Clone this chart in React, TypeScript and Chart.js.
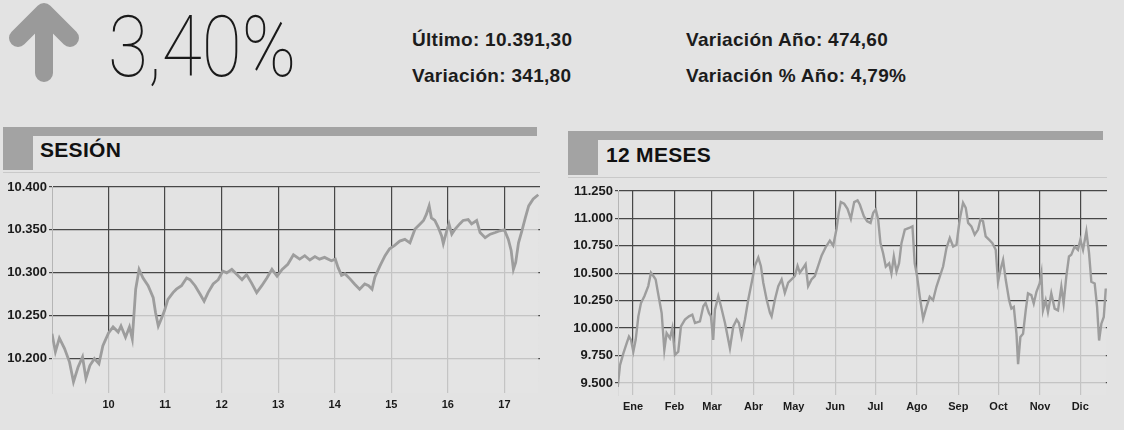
import React, { useEffect, useRef } from "react";
import { Chart, registerables } from "chart.js";
Chart.register(...registerables);

// ---- SESIÓN (intraday) ----
const sessionHours = [
  9.0, 9.06, 9.13, 9.22, 9.31, 9.38, 9.46, 9.54, 9.6, 9.67, 9.75, 9.83, 9.9, 10.0,
  10.08, 10.17, 10.22, 10.3, 10.37, 10.42, 10.48, 10.54, 10.61, 10.7, 10.79, 10.83,
  10.88, 10.93, 10.99, 11.05, 11.14, 11.2, 11.29, 11.38, 11.44, 11.53, 11.62, 11.69,
  11.76, 11.85, 11.94, 12.02, 12.09, 12.18, 12.27, 12.36, 12.44, 12.53, 12.62, 12.71,
  12.8, 12.89, 12.98, 13.07, 13.17, 13.27, 13.38, 13.47, 13.56, 13.65, 13.73, 13.82,
  13.94, 14.01, 14.06, 14.12, 14.18, 14.27, 14.35, 14.44, 14.53, 14.6, 14.66, 14.71,
  14.8, 14.89, 14.97, 15.06, 15.15, 15.24, 15.33, 15.42, 15.51, 15.57, 15.62, 15.67,
  15.71, 15.77, 15.83, 15.89, 15.92, 15.98, 16.02, 16.07, 16.13, 16.21, 16.27, 16.36,
  16.42, 16.51, 16.57, 16.66, 16.75, 16.84, 16.92, 17.0, 17.07, 17.12, 17.16, 17.2,
  17.25, 17.31, 17.37, 17.43, 17.51, 17.6,
];
const sessionValues = [
  10229, 10208, 10224, 10212, 10196, 10173, 10190, 10202, 10177, 10192, 10200, 10194,
  10215, 10230, 10237, 10231, 10238, 10225, 10237, 10223, 10281, 10304, 10294, 10285,
  10271, 10254, 10238, 10246, 10256, 10269, 10277, 10281, 10285, 10294, 10292, 10285,
  10275, 10267, 10277, 10287, 10292, 10302, 10300, 10304, 10298, 10292, 10298, 10288,
  10277, 10285, 10294, 10304, 10296, 10304, 10310, 10321, 10316, 10320, 10315, 10319,
  10316, 10318, 10314, 10316, 10306, 10297, 10299, 10293, 10287, 10281, 10287, 10285,
  10281, 10295, 10308, 10320, 10328, 10332, 10337, 10339, 10335, 10351, 10357, 10361,
  10368, 10378, 10364, 10361, 10353, 10343, 10334, 10349, 10357, 10345, 10351, 10357,
  10361, 10362, 10357, 10361, 10347, 10341, 10345, 10347, 10349, 10350, 10339, 10326,
  10304, 10312, 10335, 10349, 10364, 10378, 10386, 10391,
];
const sessionHourTicks = [10, 11, 12, 13, 14, 15, 16, 17];
const sessionValueTicks = [10200, 10250, 10300, 10350, 10400];

// ---- 12 MESES ----
const yearDays = [
  -11.4, -9.7, -7.2, -4.7, -3.0, -1.5, 0.25, 2.0, 4.0, 6.0, 8.5, 11.4, 13.4, 15.2,
  16.9, 18.9, 21.4, 23.4, 25.1, 27.6, 29.4, 31.3, 33.8, 35.8, 38.8, 41.8, 44.3, 46.3,
  50.0, 52.5, 54.2, 56.7, 58.2, 59.9, 61.2, 63.7, 65.7, 68.7, 72.4, 74.9, 77.4, 79.1,
  81.1, 83.6, 86.1, 89.1, 91.0, 93.6, 95.5, 97.3, 99.8, 102.3, 103.5, 106.0, 108.5,
  111.0, 113.4, 115.9, 118.4, 120.9, 122.9, 124.6, 126.4, 128.9, 130.8, 133.3, 135.8,
  138.3, 140.8, 143.8, 147.0, 149.5, 152.0, 153.7, 155.2, 157.7, 160.2, 162.7, 165.2,
  167.7, 169.4, 172.4, 174.9, 177.4, 179.4, 181.3, 183.1, 184.8, 186.8, 188.8, 191.3,
  193.0, 194.8, 196.8, 198.7, 200.5, 203.0, 206.2, 208.7, 210.4, 212.2, 214.2, 216.7,
  219.2, 221.6, 224.1, 226.6, 229.1, 231.6, 234.1, 236.6, 239.1, 241.6, 244.0, 246.5,
  248.5, 250.3, 252.7, 255.2, 257.7, 259.5, 261.4, 263.4, 265.9, 268.4, 270.9, 272.6,
  274.4, 276.4, 278.4, 280.9, 282.6, 284.4, 286.4, 287.6, 289.3, 291.3, 293.3, 295.0,
  297.5, 299.3, 301.3, 303.7, 305.0, 306.2, 308.2, 309.9, 312.4, 314.9, 317.4, 319.9,
  321.6, 323.6, 325.6, 327.3, 329.8, 332.3, 334.1, 336.1, 338.6, 340.6, 342.3, 344.8,
  346.6, 348.1, 349.8, 351.6, 353.1,
];
const yearValues = [
  9464, 9663, 9770, 9862, 9923, 9893, 9785, 9893, 10107, 10230, 10291, 10383, 10505,
  10475, 10444, 10306, 10138, 9801, 9954, 9908, 10000, 9755, 9785, 10015, 10077, 10107,
  10122, 10046, 10061, 10199, 10230, 10138, 10107, 9893, 10168, 10291, 10199, 10046,
  9816, 10015, 10077, 10046, 9923, 10077, 10260, 10444, 10567, 10643, 10567, 10414,
  10260, 10138, 10107, 10260, 10383, 10444, 10322, 10414, 10444, 10475, 10567, 10505,
  10536, 10582, 10383, 10444, 10475, 10567, 10659, 10735, 10797, 10751, 10904, 11057,
  11149, 11134, 11088, 10996, 11149, 11164, 11127, 11020, 10974, 10959, 11051, 11081,
  10990, 10775, 10683, 10561, 10591, 10499, 10653, 10515, 10591, 10775, 10898, 10913,
  10928, 10591, 10469, 10285, 10086, 10193, 10285, 10254, 10377, 10469, 10561, 10729,
  10821, 10744, 10760, 10990, 11143, 11097, 10959, 10928, 10852, 10898, 10990, 10974,
  10836, 10806, 10775, 10714, 10423, 10530, 10622, 10438, 10254, 10178, 10193, 9948,
  9672, 9918, 9948, 10162, 10316, 10300, 10224, 10331, 10407, 10499, 10162, 10254,
  10147, 10316, 10178, 10162, 10377, 10224, 10469, 10653, 10668, 10744, 10714, 10806,
  10714, 10882, 10683, 10423, 10407, 10193, 9887, 10040, 10101, 10361,
];
const monthStartDays = [0, 31, 59, 90, 120, 151, 181, 212, 243, 273, 304, 334];
const monthLabels = ["Ene", "Feb", "Mar", "Abr", "May", "Jun", "Jul", "Ago", "Sep", "Oct", "Nov", "Dic"];
const yearValueTicks = [9500, 9750, 10000, 10250, 10500, 10750, 11000, 11250];

const fmt = (v: number) => String(Math.round(v)).replace(/\B(?=(\d{3})+(?!\d))/g, ".");

const BG = "#e3e3e3";
const GRID = "#474747";
const FONT = "'Liberation Sans', Arial, sans-serif";

// Paper-coloured veil under the line: fades the gridlines below the curve, as in the print.
const underFill = {
  id: "underFill",
  beforeDatasetsDraw(chart: any) {
    const meta = chart.getDatasetMeta(0);
    const pts = meta.data;
    if (!pts || !pts.length) return;
    const { ctx, chartArea } = chart;
    ctx.save();
    ctx.beginPath();
    ctx.rect(chartArea.left, chartArea.top, chartArea.right - chartArea.left, chartArea.bottom - chartArea.top);
    ctx.clip();
    ctx.beginPath();
    ctx.moveTo(pts[0].x, chartArea.bottom + 2);
    pts.forEach((p: any) => ctx.lineTo(p.x, p.y));
    ctx.lineTo(pts[pts.length - 1].x, chartArea.bottom + 2);
    ctx.closePath();
    ctx.fillStyle = "rgba(227,227,227,0.8)";
    ctx.fill();
    ctx.restore();
  },
};

type Cfg = {
  xs: number[]; ys: number[]; xMin: number; xMax: number; yMin: number; yMax: number;
  xTicks: number[]; xLabel: (v: number) => string; yTicks: number[]; yAxisWidth: number;
  padRight: number; lineWidth: number;
};

function LineChart({ cfg, width, height, style }: { cfg: Cfg; width: number; height: number; style: React.CSSProperties }) {
  const ref = useRef<HTMLCanvasElement | null>(null);
  useEffect(() => {
    if (!ref.current) return;
    const chart = new Chart(ref.current, {
      type: "line",
      data: {
        datasets: [
          {
            data: cfg.xs.map((x, i) => ({ x, y: cfg.ys[i] })),
            borderColor: "#9d9d9d",
            borderWidth: cfg.lineWidth,
            pointRadius: 0,
            tension: 0,
            fill: false,
          },
        ],
      },
      plugins: [underFill],
      options: {
        animation: false,
        responsive: false,
        maintainAspectRatio: false,
        layout: { padding: { top: 10, right: cfg.padRight, left: 0, bottom: 0 } },
        plugins: { legend: { display: false }, tooltip: { enabled: false } },
        scales: {
          x: {
            type: "linear",
            min: cfg.xMin,
            max: cfg.xMax,
            afterBuildTicks: (s: any) => { s.ticks = cfg.xTicks.map((v) => ({ value: v })); },
            afterFit: (s: any) => { s.height = 22; },
            grid: { color: GRID, lineWidth: 1.2, drawTicks: false },
            border: { display: false },
            ticks: {
              padding: 5,
              autoSkip: false,
              maxRotation: 0,
              color: "#1a1a1a",
              font: { family: FONT, size: 11, weight: "bold" },
              callback: (v: any) => cfg.xLabel(Number(v)),
            },
          },
          y: {
            type: "linear",
            min: cfg.yMin,
            max: cfg.yMax,
            afterBuildTicks: (s: any) => { s.ticks = cfg.yTicks.map((v) => ({ value: v })); },
            afterFit: (s: any) => { s.width = cfg.yAxisWidth; },
            grid: { color: GRID, lineWidth: 1.2, drawTicks: true, tickLength: 3 },
            border: { display: true, color: "#b5b5b5", width: 1 },
            ticks: {
              padding: 2,
              color: "#1a1a1a",
              font: { family: FONT, size: 13, weight: "bold" },
              callback: (v: any) => fmt(Number(v)),
            },
          },
        },
      },
    });
    return () => chart.destroy();
  }, [cfg]);
  return <canvas ref={ref} width={width} height={height} style={{ position: "absolute", width, height, ...style }} />;
}

const sessionCfg: Cfg = {
  xs: sessionHours, ys: sessionValues, xMin: 9.0, xMax: 17.63, yMin: 10160, yMax: 10400,
  xTicks: sessionHourTicks, xLabel: (v) => String(v), yTicks: sessionValueTicks,
  yAxisWidth: 52, padRight: 5, lineWidth: 2.8,
};
const yearCfg: Cfg = {
  xs: yearDays, ys: yearValues, xMin: -11.2, xMax: 354, yMin: 9390, yMax: 11250,
  xTicks: monthStartDays, xLabel: (v) => monthLabels[monthStartDays.indexOf(v)] ?? "",
  yTicks: yearValueTicks, yAxisWidth: 58, padRight: 3, lineWidth: 2.4,
};

const infoStyle: React.CSSProperties = {
  position: "absolute", fontFamily: FONT, fontWeight: "bold", fontSize: 19,
  lineHeight: "19px", color: "#1c1c1c", whiteSpace: "nowrap", letterSpacing: 0.3,
};
const titleStyle: React.CSSProperties = {
  position: "absolute", fontFamily: FONT, fontWeight: 900, fontSize: 21,
  lineHeight: "21px", color: "#111", whiteSpace: "nowrap", letterSpacing: 0.3,
};

export default function App() {
  return (
    <div style={{ position: "fixed", left: 0, top: 0, width: 1124, height: 430, background: BG, overflow: "hidden" }}>
      <svg width={90} height={90} style={{ position: "absolute", left: 0, top: 0 }}>
        <path d="M44 73 V14 M18 38 L44 12 L70 38" fill="none" stroke="#9a9a9a" strokeWidth={18} strokeLinecap="round" strokeLinejoin="round" />
      </svg>
      <div style={{ position: "absolute", left: 108, top: 4, fontFamily: "Roboto, 'Open Sans', sans-serif", fontWeight: 100, fontSize: 86, lineHeight: "86px", color: "#1a1a1a", whiteSpace: "nowrap", transform: "scaleX(0.85)", transformOrigin: "left top" }}>3,40%</div>
      <div style={{ ...infoStyle, left: 412, top: 30 }}>Último: 10.391,30</div>
      <div style={{ ...infoStyle, left: 412, top: 66 }}>Variación: 341,80</div>
      <div style={{ ...infoStyle, left: 686, top: 30 }}>Variación Año: 474,60</div>
      <div style={{ ...infoStyle, left: 686, top: 66 }}>Variación % Año: 4,79%</div>

      {/* SESIÓN header */}
      <div style={{ position: "absolute", left: 3, top: 127, width: 30, height: 43, background: "#a3a3a3" }} />
      <div style={{ position: "absolute", left: 33, top: 127, width: 504, height: 9, background: "#a3a3a3" }} />
      <div style={{ position: "absolute", left: 3, top: 172, width: 537, height: 1, background: "#c9c9c9" }} />
      <div style={{ ...titleStyle, left: 40, top: 139 }}>SESIÓN</div>

      {/* 12 MESES header */}
      <div style={{ position: "absolute", left: 568, top: 131, width: 30, height: 44, background: "#a3a3a3" }} />
      <div style={{ position: "absolute", left: 598, top: 131, width: 505, height: 9, background: "#a3a3a3" }} />
      <div style={{ position: "absolute", left: 568, top: 177, width: 539, height: 1, background: "#c9c9c9" }} />
      <div style={{ ...titleStyle, left: 606, top: 144 }}>12 MESES</div>

      <LineChart cfg={sessionCfg} width={545} height={238} style={{ left: 0, top: 177 }} />
      <LineChart cfg={yearCfg} width={550} height={236} style={{ left: 560, top: 181 }} />
    </div>
  );
}
